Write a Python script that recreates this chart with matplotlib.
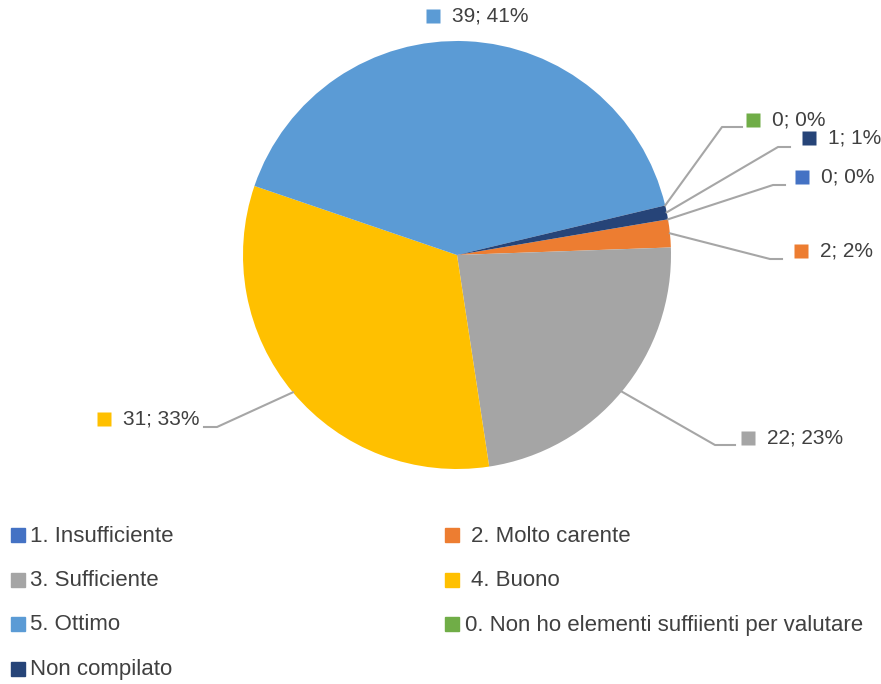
import matplotlib
matplotlib.use("Agg")
import matplotlib.pyplot as plt
import matplotlib.patches as mpatches
import numpy as np

plt.rcParams['font.family'] = ['Liberation Sans', 'DejaVu Sans']

# data (order as in the legend)
labels = ["1. Insufficiente", "2. Molto carente", "3. Sufficiente", "4. Buono",
          "5. Ottimo", "0. Non ho elementi suffiienti per valutare", "Non compilato"]
counts = [0, 2, 22, 31, 39, 0, 1]
percents = [0, 2, 23, 33, 41, 0, 1]
colors = ["#4472C4", "#ED7D31", "#A5A5A5", "#FFC000", "#5B9BD5", "#70AD47", "#264478"]

# label placement in pixels (square centre), leader elbow and end points
lab_pos = [(802, 177), (801, 251), (748, 438), (104, 419), (433, 16), (753, 120), (809, 138)]
elbows = [(773, 185), (770, 259), (715, 445), (217, 427), None, (722, 127), (778, 147)]
ends = [(785, 185), (782, 259), (735, 445), (204, 427), None, (742, 127), (790, 147)]

W, H = 881, 684
cx, cy, R = 457, 255, 214
start = 9.6

fig = plt.figure(figsize=(W / 100, H / 100), dpi=100)
ax = fig.add_axes([0, 0, 1, 1])
wedges, _ = ax.pie(counts, colors=colors, startangle=start, counterclock=False,
                   center=(cx, H - cy), radius=R, frame=True)
ax.set_xlim(0, W)
ax.set_ylim(0, H)
ax.set_aspect('auto')
ax.axis('off')

txtc = "#404040"
linec = "#A6A6A6"
total = sum(counts)
ang = start
for i in range(len(counts)):
    span = counts[i] / total * 360
    mid = np.deg2rad(ang - span / 2)
    ang -= span
    lx, ly = lab_pos[i]
    ax.plot(lx, H - ly, marker='s', ms=9.5, color=colors[i], mec='none', clip_on=False)
    ax.text(lx + 19, H - ly, f"{counts[i]}; {percents[i]}%", fontsize=15, color=txtc,
            va='center', ha='left')
    if elbows[i] is not None:
        px, py = cx + R * np.cos(mid), H - cy + R * np.sin(mid)
        ex, ey = elbows[i]
        hx, hy = ends[i]
        ax.plot([px, ex, hx], [py, H - ey, H - hy], color=linec, lw=1.5, clip_on=False)

# legend rows, two columns
for i, lab in enumerate(labels):
    row, col = i // 2, i % 2
    x = 11 if col == 0 else 445
    y = 535 + row * 44.5
    fig.patches.append(mpatches.Rectangle((x / W, 1 - (y + 7) / H), 14 / W, 14 / H,
                                          color=colors[i], transform=fig.transFigure))
    gap = 19 if col == 0 else (26 if i == 1 or i == 3 else 20)
    fig.text((x + gap) / W, 1 - (y + 1) / H, lab, fontsize=16, color=txtc, va='center', ha='left')

fig.savefig("out.png", dpi=100)
